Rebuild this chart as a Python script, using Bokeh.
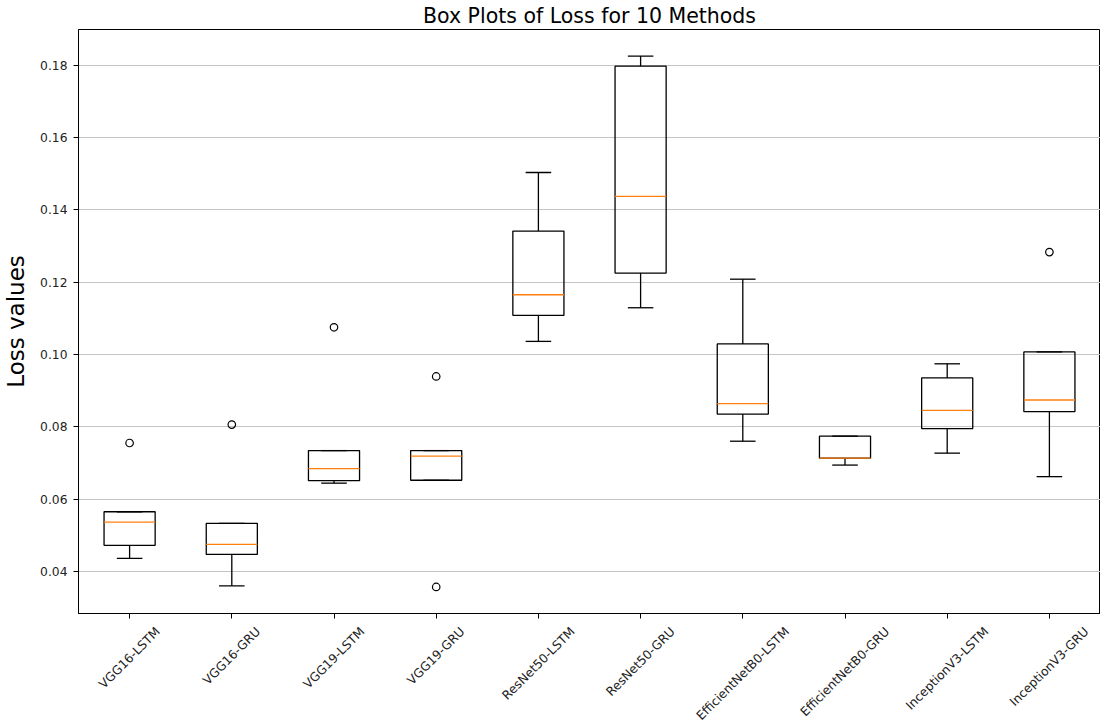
import numpy as np
from math import pi
from bokeh.plotting import figure
from bokeh.models import Range1d, FixedTicker, ColumnDataSource, PrintfTickFormatter
from bokeh.embed import file_html
from bokeh.resources import INLINE

# ---------------- data ----------------
methods = ["VGG16-LSTM", "VGG16-GRU", "VGG19-LSTM", "VGG19-GRU",
           "ResNet50-LSTM", "ResNet50-GRU", "EfficientNetB0-LSTM",
           "EfficientNetB0-GRU", "InceptionV3-LSTM", "InceptionV3-GRU"]
whisker_low = [0.0436, 0.0360, 0.0644, 0.0652, 0.1036, 0.1129, 0.0760, 0.0694, 0.0727, 0.0662]
q1 = [0.0472, 0.0447, 0.0651, 0.0652, 0.1108, 0.1225, 0.0835, 0.0713, 0.0795, 0.0842]
median = [0.0536, 0.0475, 0.0684, 0.0719, 0.1165, 0.1437, 0.0864, 0.0713, 0.0845, 0.0874]
q3 = [0.0565, 0.0533, 0.0734, 0.0734, 0.1341, 0.1797, 0.1029, 0.0774, 0.0935, 0.1007]
whisker_high = [0.0565, 0.0533, 0.0734, 0.0734, 0.1503, 0.1825, 0.1208, 0.0774, 0.0974, 0.1007]
outlier_method = ["VGG16-LSTM", "VGG16-GRU", "VGG19-LSTM", "VGG19-GRU", "VGG19-GRU", "InceptionV3-GRU"]
outlier_value = [0.0755, 0.0806, 0.1075, 0.0939, 0.0357, 0.1283]
y_ticks = [0.04, 0.06, 0.08, 0.10, 0.12, 0.14, 0.16, 0.18]
title_text = "Box Plots of Loss for 10 Methods"
y_label = "Loss values"

# ---------------- styling / layout helpers ----------------
FONT = "DejaVu Sans"
TICK_FS = 12.3
FRAME_W, FRAME_H = 1022, 584
BOX_W = 0.5
CAP_W = 0.25
MEDIAN_COLOR = "#ff7f0e"
# DejaVu Sans advance widths (em): used to place rotated labels centred under ticks (matplotlib style)
DV = {"V": .684, "G": .776, "1": .636, "6": .636, "9": .636, "5": .636, "0": .636,
      "3": .636, "-": .361, "L": .557, "S": .635, "T": .611, "M": .863, "R": .695,
      "U": .732, "e": .615, "s": .521, "N": .748, "t": .392, "E": .632, "f": .352,
      "i": .278, "c": .550, "n": .634, "B": .686, "I": .295, "p": .635, "o": .612}

pos = np.arange(1, len(methods) + 1, dtype=float)
pos_of = {m: i + 1 for i, m in enumerate(methods)}

lo = min(min(whisker_low), min(outlier_value))
hi = max(max(whisker_high), max(outlier_value))
pad = 0.05 * (hi - lo)
y_start, y_end = lo - pad, hi + pad

p = figure(frame_width=FRAME_W, frame_height=FRAME_H,
           x_range=Range1d(0.5, len(methods) + 0.5),
           y_range=Range1d(y_start, y_end),
           output_backend="svg", toolbar_location=None,
           title=title_text,
           min_border_left=73, min_border_right=0,
           min_border_bottom=0, min_border_top=0)

p.background_fill_color = "white"
p.border_fill_color = "white"
p.outline_line_color = "black"
p.outline_line_width = 1

p.title.text_font = FONT
p.title.text_font_size = "20.5px"
p.title.text_font_style = "normal"
p.title.text_color = "black"
p.title.align = "center"
p.title.standoff = 3

# grid
p.xgrid.visible = False
p.ygrid.grid_line_color = "#c4c4c4"
p.ygrid.grid_line_width = 1

# y axis
p.yaxis.ticker = FixedTicker(ticks=y_ticks)
p.yaxis.formatter = PrintfTickFormatter(format="%.2f")
p.yaxis.axis_label = y_label
p.yaxis.axis_label_text_font = FONT
p.yaxis.axis_label_text_font_size = "23px"
p.yaxis.axis_label_text_font_style = "normal"
p.yaxis.axis_label_text_color = "black"
p.yaxis.axis_label_standoff = 8
p.yaxis.major_label_text_font = FONT
p.yaxis.major_label_text_font_size = f"{TICK_FS}px"
p.yaxis.major_label_text_color = "#222222"
p.yaxis.major_label_standoff = 6
p.yaxis.major_tick_out = 5
p.yaxis.major_tick_in = 0
p.yaxis.minor_tick_line_color = None
p.yaxis.axis_line_color = "black"

# x axis: visible tick marks at the category positions (minor ticks);
# labels sit on invisible major ticks shifted so each rotated label is centred under its tick
px_per_unit = FRAME_W / len(methods)
def text_len(s):
    return sum(DV.get(c, 0.6) for c in s) * TICK_FS
label_ticks = [round(float(x) + text_len(m) * 0.3536 / px_per_unit, 6) for x, m in zip(pos, methods)]
p.xaxis.ticker = FixedTicker(ticks=label_ticks, minor_ticks=list(pos))
p.xaxis.major_label_overrides = {t: m for t, m in zip(label_ticks, methods)}
p.xaxis.major_label_orientation = pi / 4
p.xaxis.major_label_text_font = FONT
p.xaxis.major_label_text_font_size = f"{TICK_FS}px"
p.xaxis.major_label_text_color = "#222222"
p.xaxis.major_tick_line_color = None
p.xaxis.major_tick_out = 5
p.xaxis.major_tick_in = 0
p.xaxis.major_label_standoff = 11
p.xaxis.minor_tick_line_color = "black"
p.xaxis.minor_tick_out = 5
p.xaxis.minor_tick_in = 0
p.xaxis.axis_line_color = "black"

src = ColumnDataSource(dict(pos=pos, q1=q1, q3=q3, med=median,
                            wl=whisker_low, wh=whisker_high,
                            bl=pos - BOX_W / 2, br=pos + BOX_W / 2,
                            cl=pos - CAP_W / 2, cr=pos + CAP_W / 2))

# whiskers
p.segment(x0="pos", y0="q3", x1="pos", y1="wh", source=src, line_color="black", line_width=1.3)
p.segment(x0="pos", y0="q1", x1="pos", y1="wl", source=src, line_color="black", line_width=1.3)
# caps
p.segment(x0="cl", y0="wh", x1="cr", y1="wh", source=src, line_color="black", line_width=1.3)
p.segment(x0="cl", y0="wl", x1="cr", y1="wl", source=src, line_color="black", line_width=1.3)
# boxes
p.vbar(x="pos", width=BOX_W, bottom="q1", top="q3", source=src,
       fill_alpha=0, line_color="black", line_width=1.3)
# medians
p.segment(x0="bl", y0="med", x1="br", y1="med", source=src, line_color=MEDIAN_COLOR, line_width=1.3)
# outliers
p.scatter(x=[pos_of[m] for m in outlier_method], y=outlier_value, marker="circle",
          size=7.5, fill_color=None, line_color="black", line_width=1.2)

open("out.html", "w").write(file_html(p, INLINE))
